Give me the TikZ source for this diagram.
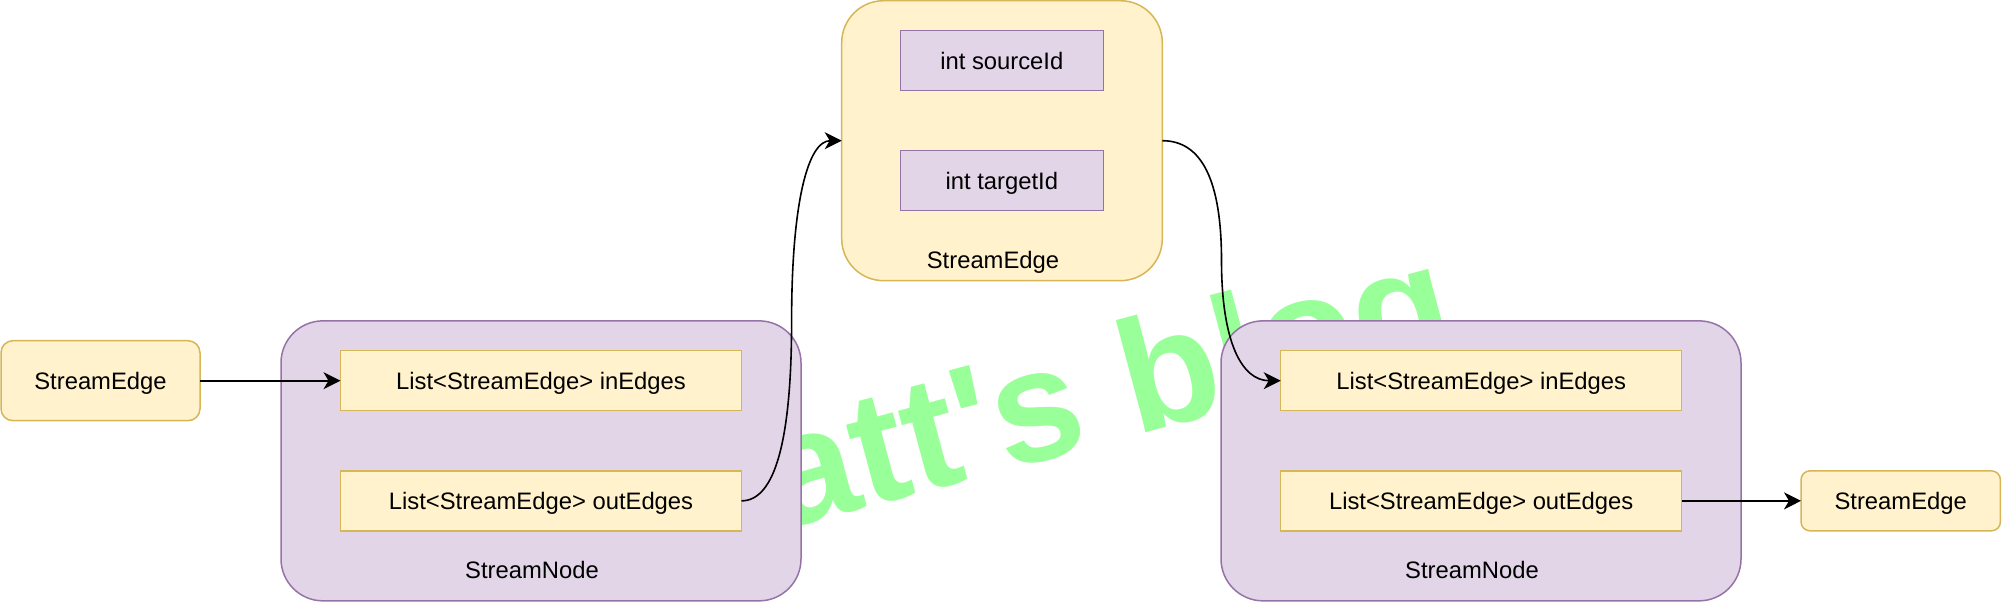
\documentclass[tikz,border=0pt]{standalone}
\usepackage{fontspec}
\setmainfont{Liberation Sans}
\newfontfamily\wmfont{Liberation Sans}[Ligatures=TeXOff]
\usetikzlibrary{arrows.meta,calc}
\definecolor{yfill}{HTML}{FFF2CC}
\definecolor{ydraw}{HTML}{D6B656}
\definecolor{pfill}{HTML}{E1D5E7}
\definecolor{pdraw}{HTML}{9673A6}
\definecolor{wmgreen}{HTML}{99FF99}
\begin{document}
\begin{tikzpicture}[x=1pt,y=-1pt,
  every node/.style={inner sep=0pt,outer sep=0pt},
  txt/.style={font=\fontsize{23.8pt}{28pt}\selectfont},
  ybox/.style={draw=ydraw,fill=yfill,line width=1.5pt,txt,text height=17pt,text depth=0pt},
  pbox/.style={draw=pdraw,fill=pfill,line width=1.5pt,txt,text height=17pt,text depth=0pt},
  arr/.style={-{Stealth[length=17pt,width=17pt,inset=5pt]},line width=1.6pt,black}]
\useasboundingbox (0,0) rectangle (2002,604);
% watermark
\node[anchor=base west,rotate=15,text=wmgreen,font=\wmfont\fontsize{160pt}{190pt}\selectfont\bfseries] (wmk) at (652,565) {Matt's blog};
% left small StreamEdge
\node[ybox,rounded corners=12pt,minimum width=199pt,minimum height=80pt] (se1) at (100.5,380.7) {StreamEdge};
% left StreamNode
\node[pbox,rounded corners=42pt,minimum width=520pt,minimum height=280pt] (n1) at (541,460.85) {};
\node[ybox,minimum width=401pt,minimum height=60pt] (n1in) at (541,380.7) {List<StreamEdge> inEdges};
\node[ybox,minimum width=401pt,minimum height=60pt] (n1out) at (541,500.85) {List<StreamEdge> outEdges};
\node[txt,anchor=base] (n1lab) at (532,578) {StreamNode};
% top StreamEdge
\node[ybox,rounded corners=42pt,minimum width=320.6pt,minimum height=280pt] (te) at (1002,140.7) {};
\node[pbox,minimum width=203pt,minimum height=60pt] (sid) at (1001.8,60.7) {int sourceId};
\node[pbox,minimum width=203pt,minimum height=60pt] (tid) at (1001.8,180.7) {int targetId};
\node[txt,anchor=base] (telab) at (993,268) {StreamEdge};
% right StreamNode
\node[pbox,rounded corners=42pt,minimum width=520pt,minimum height=280pt] (n2) at (1481,460.85) {};
\node[ybox,minimum width=401pt,minimum height=60pt] (n2in) at (1481.2,380.7) {List<StreamEdge> inEdges};
\node[ybox,minimum width=401pt,minimum height=60pt] (n2out) at (1481.2,500.85) {List<StreamEdge> outEdges};
\node[txt,anchor=base] (n2lab) at (1472,578) {StreamNode};
% right small StreamEdge
\node[ybox,rounded corners=9pt,minimum width=199.4pt,minimum height=60pt] (se2) at (1900.7,500.85) {StreamEdge};
% connectors
\draw[arr] (se1.east) -- (n1in.west);
\draw[arr] (n1out.east) .. controls +(33.4,0) and +(0,120) .. ($(n1out.east)!0.5!(te.west)$) .. controls +(0,-120) and +(-33.4,0) .. (te.west);
\draw[arr] (te.east) .. controls +(39.5,0) and +(0,-80) .. ($(te.east)!0.5!(n2in.west)$) .. controls +(0,80) and +(-39.5,0) .. (n2in.west);
\draw[arr] (n2out.east) -- (se2.west);
\end{tikzpicture}
\end{document}
